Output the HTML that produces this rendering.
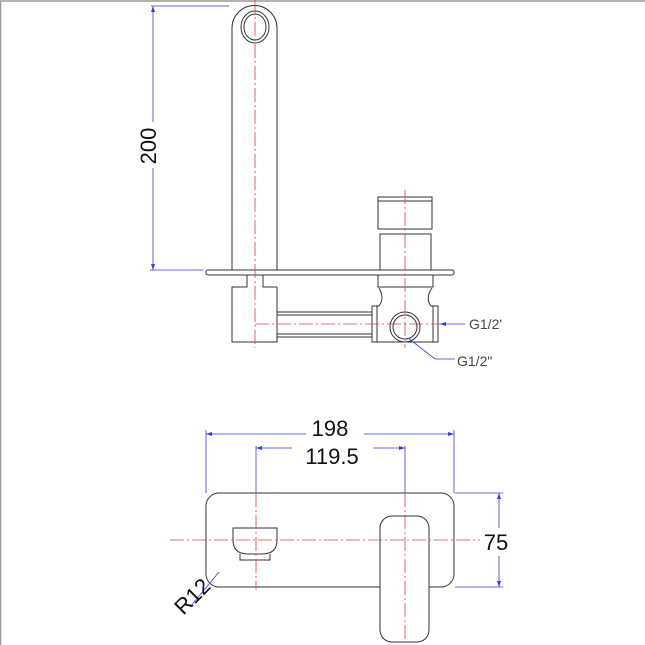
<!DOCTYPE html>
<html><head><style>html,body{margin:0;padding:0;background:#fff}svg{display:block}</style></head>
<body>
<svg width="645" height="645" viewBox="0 0 645 645" xmlns="http://www.w3.org/2000/svg" font-family="Liberation Sans, Arial, sans-serif">
<rect x="0.5" y="1" width="650" height="650" fill="none" stroke="#999" stroke-width="1.5"/>
<g stroke="#333" stroke-width="1" fill="none">
<path d="M232 270 V28 A22 22 0 0 1 277 28 V270"/>
<ellipse cx="255" cy="27" rx="14" ry="16"/>
<ellipse cx="255" cy="27" rx="11" ry="13"/>
<rect x="206" y="270" width="248" height="5" rx="2"/>
<path d="M247 275 V287 H232 V342 H277 V287 H263 V275"/>
<line x1="277" y1="312" x2="372" y2="312"/><line x1="277" y1="315" x2="372" y2="315"/>
<line x1="277" y1="334" x2="372" y2="334"/><line x1="277" y1="337" x2="372" y2="337"/>
<rect x="378" y="197" width="54" height="32"/><line x1="378" y1="201" x2="432" y2="201"/>
<rect x="380" y="234" width="51" height="36"/>
<path d="M378 275 V287 H433 V275"/>
<path d="M379 288 Q385 298 379 306 H372 V342 H438 V306 H431 Q425 298 432 288"/>
<rect x="372" y="306" width="5" height="36"/><rect x="433" y="306" width="5" height="36"/>
<circle cx="405" cy="327" r="15"/><circle cx="405" cy="327" r="12"/>
<rect x="206" y="493" width="248" height="94" rx="13"/>
<path d="M233 528 H277 V540 Q277 554 262 554 H248 Q233 554 233 540 Z"/>
<path d="M240 554 V560 H270 V554"/>
<rect x="380" y="516" width="49" height="126" rx="12" fill="#fff"/>
</g>
<g stroke="#e04040" stroke-width="0.8" stroke-dasharray="14,3,2,3" fill="none">
<line x1="255" y1="0" x2="255" y2="348"/>
<line x1="405" y1="190" x2="405" y2="348"/>
<line x1="255" y1="324" x2="440" y2="324"/>
<line x1="170" y1="540" x2="480" y2="540"/>
<line x1="256" y1="493" x2="256" y2="590"/>
<line x1="405" y1="493" x2="405" y2="640"/>
</g>
<g stroke="#3a3ae0" stroke-width="0.8" fill="none">
<line x1="153" y1="6" x2="153" y2="122"/><line x1="153" y1="168" x2="153" y2="270"/>
<line x1="151" y1="6" x2="229" y2="6"/><line x1="150" y1="270" x2="203" y2="270"/>
<line x1="440" y1="324" x2="465" y2="324"/>
<path d="M408 338 L435 359 H455"/>
<line x1="206" y1="430" x2="206" y2="493"/><line x1="454" y1="430" x2="454" y2="493"/>
<line x1="206" y1="434" x2="306" y2="434"/><line x1="364" y1="434" x2="454" y2="434"/>
<line x1="256" y1="446" x2="256" y2="493"/><line x1="405" y1="446" x2="405" y2="493"/>
<line x1="256" y1="448" x2="292" y2="448"/><line x1="373" y1="448" x2="405" y2="448"/>
<line x1="455" y1="493" x2="503" y2="493"/><line x1="455" y1="587" x2="503" y2="587"/>
<line x1="499" y1="493" x2="499" y2="528"/><line x1="499" y1="556" x2="499" y2="587"/>
<line x1="219" y1="572" x2="190" y2="607"/>
</g>
<g fill="#3a3ae0">
<path d="M153 6 l-2 6 h4z"/><path d="M153 270 l-2 -6 h4z"/>
<path d="M440 324 l6 -2 v4z"/>
<path d="M206 434 l6 -2 v4z"/><path d="M454 434 l-6 -2 v4z"/>
<path d="M256 448 l6 -2 v4z"/><path d="M405 448 l-6 -2 v4z"/>
<path d="M499 493 l-2 6 h4z"/><path d="M499 587 l-2 -6 h4z"/>
</g>
<g fill="#111">
<text x="156" y="146" font-size="22" text-anchor="middle" transform="rotate(-90 156 146)">200</text>
<text x="469" y="329" font-size="14" fill="#444">G1/2'</text>
<text x="457" y="366" font-size="14" fill="#444">G1/2"</text>
<text x="330" y="436" font-size="22" text-anchor="middle">198</text>
<text x="332" y="464" font-size="22" text-anchor="middle">119.5</text>
<text x="496" y="550" font-size="22" text-anchor="middle">75</text>
<text x="192" y="604" font-size="22" text-anchor="middle" transform="rotate(-45 192 596)">R12</text>
</g>
</svg>
</body></html>
